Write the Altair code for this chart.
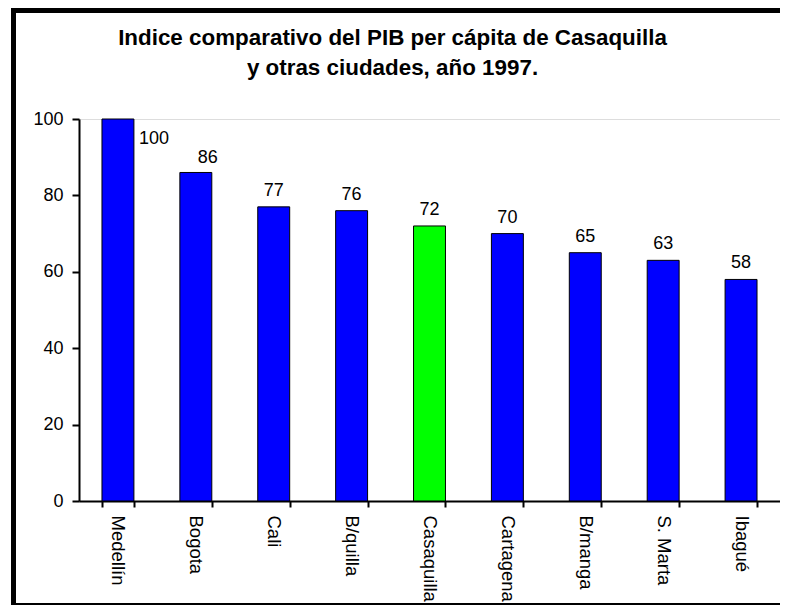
import altair as alt
import pandas as pd

cities = ["Medellín", "Bogota", "Cali", "B/quilla", "Casaquilla",
          "Cartagena", "B/manga", "S. Marta", "Ibagué"]
values = [100, 86, 77, 76, 72, 70, 65, 63, 58]
highlight = "Casaquilla"
title_lines = ["Indice comparativo del PIB per cápita de Casaquilla",
               "y otras ciudades, año 1997."]
y_ticks = [0, 20, 40, 60, 80, 100]

df = pd.DataFrame({"ciudad": cities, "valor": values})
one = pd.DataFrame({"k": [0]})

FONT = "Liberation Sans"
W, H = 701, 382

x_enc = alt.X(
    "ciudad:N", sort=cities, title=None,
    scale=alt.Scale(paddingInner=0.59, paddingOuter=0.295),
    axis=alt.Axis(labelAngle=90, labelAlign="left", labelBaseline="middle",
                  labelFontSize=18.5, labelColor="black", labelFont=FONT,
                  tickBand="extent", tickSize=6, tickWidth=2, tickColor="black",
                  domainColor="black", domainWidth=2, labelPadding=8, grid=False),
)
y_enc = alt.Y(
    "valor:Q", title=None, scale=alt.Scale(domain=[0, 100], nice=False),
    axis=alt.Axis(values=y_ticks, labelFontSize=18, labelColor="black", labelFont=FONT,
                  tickSize=7, tickWidth=2, tickColor="black",
                  domainColor="black", domainWidth=2, labelPadding=9, grid=False),
)

base = alt.Chart(df)

bars = base.mark_bar(stroke="black", strokeWidth=1).encode(
    x=x_enc, y=y_enc,
    color=alt.condition(alt.datum.ciudad == highlight,
                        alt.value("#00FF00"), alt.value("#0000FF")),
)

txt_common = dict(fontSize=18, font=FONT, color="black", baseline="alphabetic")

labels_rest = base.transform_filter(
    (alt.datum.ciudad != "Medellín") & (alt.datum.ciudad != "Bogota")
).mark_text(dy=-11, align="center", **txt_common).encode(
    x=alt.X("ciudad:N", sort=cities), y="valor:Q", text="valor:Q")

labels_bog = base.transform_filter(alt.datum.ciudad == "Bogota").mark_text(
    dy=-9, dx=12, align="center", **txt_common).encode(
    x=alt.X("ciudad:N", sort=cities), y="valor:Q", text="valor:Q")

labels_med = base.transform_filter(alt.datum.ciudad == "Medellín").mark_text(
    dy=25, dx=21, align="left", **txt_common).encode(
    x=alt.X("ciudad:N", sort=cities), y="valor:Q", text="valor:Q")

# outer frame (decoration)
frame_top = alt.Chart(one).mark_rule(color="black", strokeWidth=5).encode(
    x=alt.value(-68), x2=alt.value(701), y=alt.value(-108.5))
frame_left = alt.Chart(one).mark_rule(color="black", strokeWidth=5).encode(
    x=alt.value(-65.5), y=alt.value(-111), y2=alt.value(486))
frame_bottom = alt.Chart(one).mark_rule(color="black", strokeWidth=2).encode(
    x=alt.value(-68), x2=alt.value(701), y=alt.value(485))

chart = alt.layer(
    bars, labels_rest, labels_bog, labels_med, frame_top, frame_left, frame_bottom
).properties(
    width=W, height=H,
    title=alt.TitleParams(text=title_lines, fontSize=22.4, font=FONT, fontWeight="bold",
                          color="black", lineHeight=30, offset=-74, dx=-37,
                          anchor="middle"),
    autosize=alt.AutoSizeParams(type="none"),
    padding={"left": 71, "top": 111, "right": 0, "bottom": 105},
).configure_view(
    stroke="#808080", strokeWidth=1
).configure(background="white")

chart.save("out.html", embed_options={"renderer": "svg", "actions": False})
